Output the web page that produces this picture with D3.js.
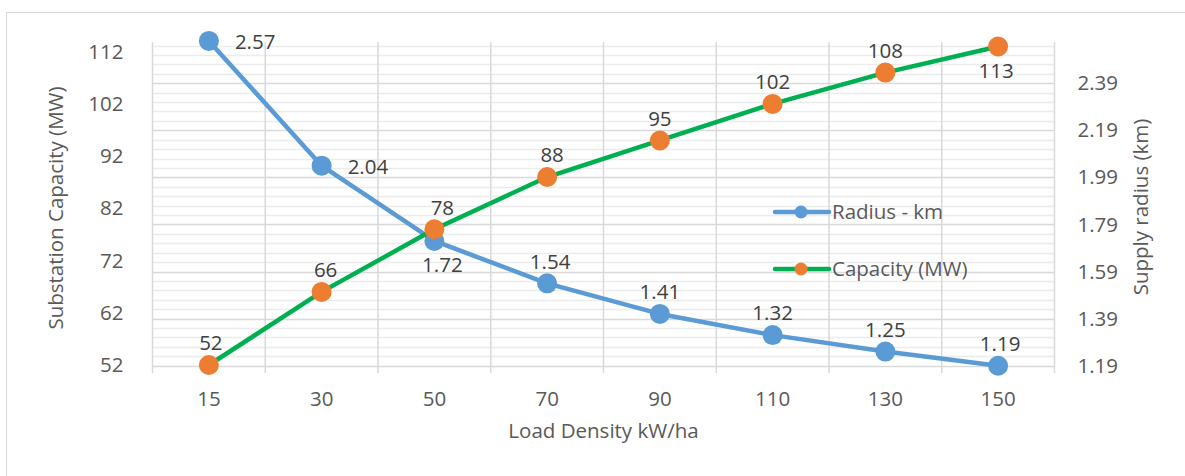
<!DOCTYPE html>
<html>
<head>
<meta charset="utf-8">
<script src="https://cdn.jsdelivr.net/npm/d3@7"></script>
<style>
  html, body { margin: 0; padding: 0; background: #fff; }
  svg { display: block; font-family: "Open Sans", "Noto Sans", sans-serif; }
</style>
</head>
<body>
<svg id="chart" width="1185" height="476"></svg>
<script>
// Load density categories (kW/ha)
const loadDensity = [15, 30, 50, 70, 90, 110, 130, 150];
// Supply radius (km) per load density
const radiusKm = [2.57, 2.04, 1.72, 1.54, 1.41, 1.32, 1.25, 1.19];
// Substation capacity (MW) per load density
const capacityMW = [52, 66, 78, 88, 95, 102, 108, 113];

// Axis tick labels
const leftTicks = [52, 62, 72, 82, 92, 102, 112];
const rightTicks = [1.19, 1.39, 1.59, 1.79, 1.99, 2.19, 2.39];

// Where each data label sits relative to its marker
const radiusLabelPos = ["right", "right", "below", "above", "above", "above", "above", "above"];
const radiusLabelShift = [0, 0, 8, 3, 0, 0, 0, 2];
const capacityLabelPos = ["above", "above", "above", "above", "above", "above", "above", "below"];
const capacityLabelShift = [2, 4, 8, 5, 0, 0, 0, -2];

const FONT = 20.5;
const TEXT = "#595959", LABEL = "#404040";

const svg = d3.select("#chart");
const W = 1185, H = 476;
const plot = { left: 152.5, right: 1054.5, top: 42.3, bottom: 373 };

// Outer chart border
svg.append("rect")
  .attr("x", 6.5).attr("y", 12.5)
  .attr("width", W).attr("height", H)
  .attr("fill", "#fff").attr("stroke", "#d9d9d9").attr("stroke-width", 1);

const x = d3.scaleBand()
  .domain(loadDensity)
  .range([plot.left, plot.right])
  .padding(0);

const yL = d3.scaleLinear().domain([50.47, 113.8]).range([plot.bottom, plot.top]);
const yR = d3.scaleLinear().domain([1.159, 2.564]).range([plot.bottom, plot.top]);

const grid = svg.append("g");

// Minor horizontal gridlines every 0.04 km on the radius axis
const minor = d3.range(0, 40).map(i => +(1.19 + i * 0.04).toFixed(2)).filter(v => v <= 2.56 && !rightTicks.includes(v));
grid.selectAll("line.minor").data(minor).join("line")
  .attr("x1", plot.left).attr("x2", plot.right)
  .attr("y1", d => Math.round(yR(d)) + 0.5).attr("y2", d => Math.round(yR(d)) + 0.5)
  .attr("stroke", "#ececec").attr("stroke-width", 1.5);

// Major horizontal gridlines
grid.selectAll("line.major").data(rightTicks).join("line")
  .attr("x1", plot.left).attr("x2", plot.right)
  .attr("y1", d => Math.round(yR(d)) + 0.5).attr("y2", d => Math.round(yR(d)) + 0.5)
  .attr("stroke", "#d9d9d9").attr("stroke-width", 1.5);

// Vertical gridlines at category boundaries
const bounds = loadDensity.map(d => x(d)).concat([x(loadDensity[loadDensity.length - 1]) + x.bandwidth()]);
grid.selectAll("line.v").data(bounds).join("line")
  .attr("x1", d => d).attr("x2", d => d)
  .attr("y1", plot.top).attr("y2", plot.bottom)
  .attr("stroke", "#d9d9d9").attr("stroke-width", 1.5);

// Axes (labels only, no axis lines)
const axisText = g => {
  g.select(".domain").remove();
  g.selectAll(".tick line").remove();
  g.selectAll("text").attr("fill", TEXT).style("font-size", FONT + "px").style("font-family", "'Open Sans', sans-serif");
};

svg.append("g")
  .attr("transform", `translate(${plot.left - 29},0)`)
  .call(d3.axisLeft(yL).tickValues(leftTicks).tickSize(0).tickPadding(0))
  .call(axisText);

svg.append("g")
  .attr("transform", `translate(${plot.right + 23},0)`)
  .call(d3.axisRight(yR).tickValues(rightTicks).tickFormat(d3.format(".2f")).tickSize(0).tickPadding(0))
  .call(axisText);

const xAxis = svg.append("g")
  .attr("transform", `translate(0,${plot.bottom})`)
  .call(d3.axisBottom(x).tickSize(0).tickPadding(0))
  .call(axisText);
xAxis.selectAll("text").attr("dy", null).attr("y", 32.5);

// Axis titles
svg.append("text")
  .attr("transform", "translate(63,208) rotate(-90)")
  .attr("text-anchor", "middle")
  .attr("fill", TEXT).style("font-size", FONT + "px")
  .text("Substation Capacity (MW)");

svg.append("text")
  .attr("transform", "translate(1148,207) rotate(-90)")
  .attr("text-anchor", "middle")
  .attr("fill", TEXT).style("font-size", FONT + "px")
  .text("Supply radius (km)");

svg.append("text")
  .attr("x", (plot.left + plot.right) / 2).attr("y", 438)
  .attr("text-anchor", "middle")
  .attr("fill", TEXT).style("font-size", FONT + "px")
  .text("Load Density kW/ha");

const cx = d => x(d) + x.bandwidth() / 2;
const BLUE = "#5b9bd5", GREEN = "#00b050", ORANGE = "#ed7d31";

// Radius series
const radiusPts = loadDensity.map((d, i) => [cx(d), yR(radiusKm[i])]);
svg.append("path")
  .attr("d", d3.line()(radiusPts))
  .attr("fill", "none").attr("stroke", BLUE).attr("stroke-width", 4.5)
  .attr("stroke-linejoin", "round").attr("stroke-linecap", "round");
svg.append("g").selectAll("circle").data(radiusPts).join("circle")
  .attr("cx", d => d[0]).attr("cy", d => d[1]).attr("r", 10)
  .attr("fill", BLUE);

// Capacity series
const capPts = loadDensity.map((d, i) => [cx(d), yL(capacityMW[i])]);
svg.append("path")
  .attr("d", d3.line()(capPts))
  .attr("fill", "none").attr("stroke", GREEN).attr("stroke-width", 4.5)
  .attr("stroke-linejoin", "round").attr("stroke-linecap", "round");
svg.append("g").selectAll("circle").data(capPts).join("circle")
  .attr("cx", d => d[0]).attr("cy", d => d[1]).attr("r", 10)
  .attr("fill", ORANGE);

// Data labels (baseline placed so the digits centre sits at the target offset)
const half = FONT * 0.357;
function drawLabels(pts, values, pos, shift, fmt) {
  const g = svg.append("g");
  pts.forEach((p, i) => {
    const t = g.append("text")
      .attr("fill", LABEL).style("font-size", FONT + "px")
      .text(fmt(values[i]));
    if (pos[i] === "right") {
      t.attr("x", p[0] + 26).attr("y", p[1] + 1 + half).attr("text-anchor", "start");
    } else if (pos[i] === "below") {
      t.attr("x", p[0] + shift[i]).attr("y", p[1] + 24 + half).attr("text-anchor", "middle");
    } else {
      t.attr("x", p[0] + shift[i]).attr("y", p[1] - 22 + half).attr("text-anchor", "middle");
    }
  });
}
drawLabels(radiusPts, radiusKm, radiusLabelPos, radiusLabelShift, d3.format(".2f"));
drawLabels(capPts, capacityMW, capacityLabelPos, capacityLabelShift, d => String(d));

// Legend
const legend = svg.append("g");
const legendItems = [
  { name: "Radius - km", line: BLUE, dot: BLUE, y: 212 },
  { name: "Capacity (MW)", line: GREEN, dot: ORANGE, y: 269 }
];
legendItems.forEach(it => {
  legend.append("line")
    .attr("x1", 775).attr("x2", 829).attr("y1", it.y).attr("y2", it.y)
    .attr("stroke", it.line).attr("stroke-width", 4.5).attr("stroke-linecap", "round");
  legend.append("circle").attr("cx", 801).attr("cy", it.y).attr("r", 6.5).attr("fill", it.dot);
  legend.append("text")
    .attr("x", 832).attr("y", it.y + half)
    .attr("fill", TEXT).style("font-size", FONT + "px")
    .text(it.name);
});
</script>
</body>
</html>
